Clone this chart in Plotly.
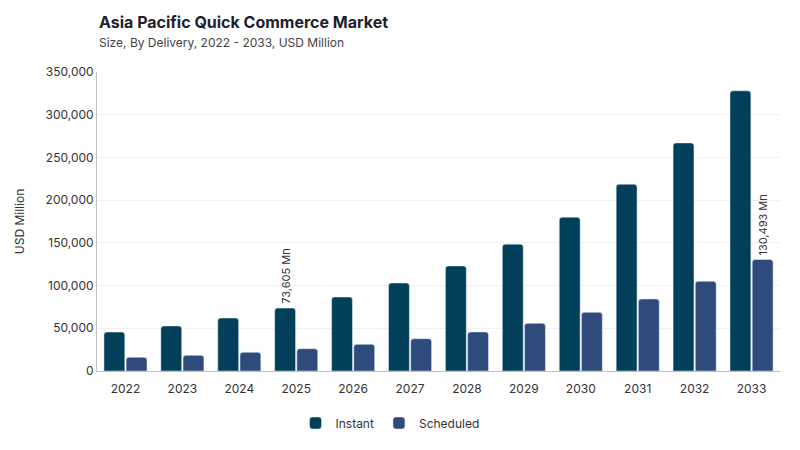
import plotly.graph_objects as go

years = ["2022", "2023", "2024", "2025", "2026", "2027", "2028", "2029", "2030", "2031", "2032", "2033"]
instant = [45600, 52700, 62000, 73605, 86600, 103000, 123000, 148500, 180000, 218600, 267000, 328000]
scheduled = [16000, 18300, 21900, 26100, 31200, 37800, 45700, 55800, 68700, 84300, 105000, 130493]
instant_labels = ["", "", "", "73,605 Mn", "", "", "", "", "", "", "", ""]
scheduled_labels = ["", "", "", "", "", "", "", "", "", "", "", "130,493 Mn"]
y_ticks = [0, 50000, 100000, 150000, 200000, 250000, 300000, 350000]

FONT = "Inter"
OFF = 8  # page body offset
W, H = 800, 450
L, T = 97 - OFF, 72 - OFF
R = W - (780 - OFF)
B = H - (371 - OFF)
ph = H - T - B

fig = go.Figure()
fig.add_trace(go.Bar(name="Instant", x=years, y=instant, marker=dict(color="#023f5b", cornerradius=3)))
fig.add_trace(go.Bar(name="Scheduled", x=years, y=scheduled, marker=dict(color="#2f4b7c", cornerradius=3)))

# category axis: annotation x given as category index
for i, (v, lab) in enumerate(zip(instant, instant_labels)):
    if lab:
        fig.add_annotation(x=i, y=v, text=lab, textangle=-90, showarrow=False, xanchor="center",
                           yanchor="bottom", xshift=-11, yshift=2, font=dict(size=11, color="#333333", family=FONT))
for i, (v, lab) in enumerate(zip(scheduled, scheduled_labels)):
    if lab:
        fig.add_annotation(x=i, y=v, text=lab, textangle=-90, showarrow=False, xanchor="center",
                           yanchor="bottom", xshift=11, yshift=2, font=dict(size=11, color="#333333", family=FONT))

fig.add_annotation(text="<b>Asia Pacific Quick Commerce Market</b>", xref="paper", yref="paper",
                   x=0, y=(H - B - (22 - OFF)) / ph, showarrow=False, xanchor="left", yanchor="middle",
                   font=dict(size=16, color="#1e1e2e", family=FONT))
fig.add_annotation(text="Size, By Delivery, 2022 - 2033, USD Million", xref="paper", yref="paper",
                   x=0, y=(H - B - (42 - OFF)) / ph, showarrow=False, xanchor="left", yanchor="middle",
                   font=dict(size=12, color="#444444", family=FONT))

fig.update_layout(
    width=W, height=H,
    margin=dict(l=L, r=R, t=T, b=B, autoexpand=False),
    paper_bgcolor="white", plot_bgcolor="white",
    font=dict(family=FONT, color="#333333", size=12),
    barmode="group", bargap=0.22, bargroupgap=0.06,
    showlegend=True,
    legend=dict(orientation="h", xref="container", x=(390 - OFF) / W, xanchor="center",
                yref="container", y=(H - (423 - OFF)) / H, yanchor="middle",
                font=dict(size=12, color="#333333"), itemwidth=30),
)

fig.update_xaxes(type="category", showgrid=False, showline=True, linecolor="#bfbfbf", linewidth=1,
                 ticks="outside", ticklen=7, tickcolor="rgba(0,0,0,0)",
                 tickfont=dict(size=12, color="#333333"), automargin=False)
fig.update_yaxes(range=[0, 350000], tickvals=y_ticks, tickformat=",d", showgrid=True, gridcolor="#f0f0f0",
                 showline=True, linecolor="#bfbfbf", linewidth=1, zeroline=False, automargin=False,
                 title=dict(text="USD Million", font=dict(size=12, color="#333333"), standoff=18),
                 tickfont=dict(size=12, color="#333333"))

fig.write_html("out.html")
